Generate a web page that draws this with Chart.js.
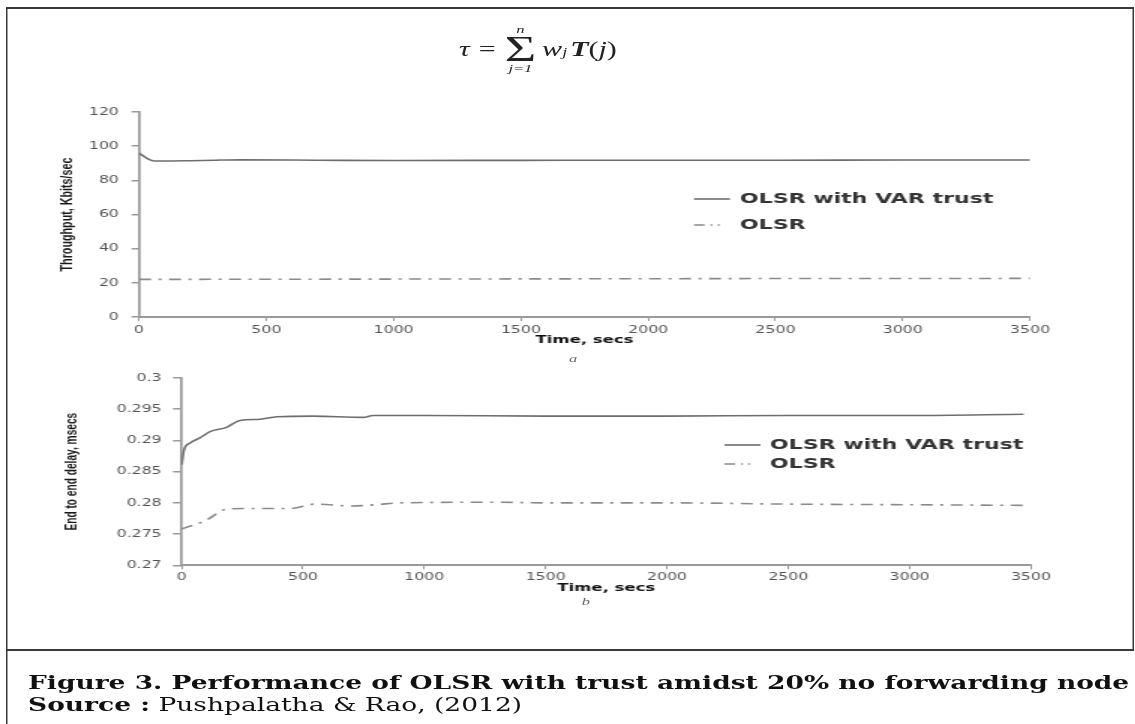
<!DOCTYPE html>
<html lang="en">
<head>
<meta charset="UTF-8">
<title>Figure 3 - Performance of OLSR with trust</title>
<style>
    * { margin: 0; padding: 0; box-sizing: border-box; }
    body { width: 1135px; height: 724px; background: #fff; overflow: hidden; font-family: 'DejaVu Sans', sans-serif; }

    /* the source figure is stretched sideways, so everything is laid out narrow and widened */
    #stage { position: absolute; left: 0; top: 0; width: 756.67px; height: 724px; transform: scaleX(1.5); transform-origin: 0 0; }

    .frame { position: absolute; left: 4px; top: 7px; width: 752px; height: 644px; border: 2px solid #3a3a3a; border-left-width: 1.4px; border-right-width: 1.4px; }
    .frame-low { position: absolute; left: 4px; top: 650px; width: 1.4px; height: 74px; background: #3a3a3a; }

    .chart-box { position: absolute; left: 0; width: 740px; }

    .formula { position: absolute; left: 306px; top: 24px; display: flex; align-items: center; font-family: 'Liberation Serif', serif; font-size: 20px; color: #222; white-space: nowrap; }
    .formula i { font-style: italic; }
    .formula .eq { margin: 0 6px; }
    .formula .sum { display: flex; flex-direction: column; align-items: center; line-height: 1; margin-right: 4px; }
    .formula .sum .lim { font-size: 11px; font-style: italic; }
    .formula .sum .sig { font-size: 36px; line-height: 28px; }
    .formula sub { font-size: 12px; font-style: italic; position: relative; top: 3px; vertical-align: baseline; margin-right: 2px; }
    .formula b { font-style: italic; }

    .tag { position: absolute; font: italic 11px 'Liberation Serif', serif; color: #666; transform: translate(-50%, -50%); }

    .caption { position: absolute; left: 18.7px; top: 671.5px; font-family: 'DejaVu Serif', serif; font-size: 17px; line-height: 21px; color: #111; white-space: nowrap; }
    .caption b { font-weight: bold; }
</style>
</head>
<body>
<div id="stage">
    <div class="frame"></div>
    <div class="frame-low"></div>

    <div class="formula">
        <i>τ</i><span class="eq">=</span>
        <span class="sum"><span class="lim">n</span><span class="sig">Σ</span><span class="lim">j=1</span></span>
        <i>w</i><sub>j</sub><b>T</b>(<i>j</i>)
    </div>

    <div class="chart-box" style="top:90px;height:260px;"><canvas id="throughputChart"></canvas></div>
    <div class="tag" style="left:382px;top:358px;">a</div>

    <div class="chart-box" style="top:355px;height:250px;"><canvas id="delayChart"></canvas></div>
    <div class="tag" style="left:390.5px;top:601px;">b</div>

    <div class="caption">
        <span id="capLine1"><b>Figure 3. Performance of OLSR with trust amidst 20% no forwarding node</b></span><br>
        <span><b>Source :</b> Pushpalatha &amp; Rao, (2012)</span>
    </div>
</div>

<script src="https://cdn.jsdelivr.net/npm/chart.js@4.4.0/dist/chart.umd.min.js"></script>
<script>
    // Series names
    const trustName = 'OLSR with VAR trust';
    const plainName = 'OLSR';

    // (a) Throughput, Kbits/sec against time
    const trustTimeA = [0, 15, 35, 60, 100, 200, 300, 400, 600, 800, 1000, 1500, 2000, 2500, 3000, 3500];
    const trustThroughput = [96, 94.5, 92.5, 91.3, 91.3, 91.5, 91.8, 92.0, 91.9, 91.7, 91.6, 91.7, 91.8, 91.8, 91.9, 91.9];
    const plainTimeA = [0, 500, 1000, 1500, 2000, 2500, 3000, 3500];
    const plainThroughput = [22.0, 22.1, 22.2, 22.3, 22.4, 22.5, 22.5, 22.6];

    // (b) End to end delay, msecs against time
    const trustTimeB = [0, 10, 35, 75, 117, 185, 240, 323, 391, 542, 748, 789, 1000, 1500, 2000, 2500, 3000, 3470];
    const trustDelay = [0.2861, 0.2885, 0.2896, 0.2904, 0.2914, 0.2921, 0.2932, 0.2934, 0.2938, 0.2939, 0.2937, 0.2940, 0.2940, 0.2939, 0.2939, 0.2940, 0.2940, 0.2942];
    const plainTimeB = [0, 100, 185, 300, 450, 550, 700, 800, 900, 1300, 1500, 2000, 2500, 3000, 3470];
    const plainDelay = [0.2758, 0.2772, 0.2790, 0.2791, 0.2791, 0.2798, 0.2795, 0.2797, 0.2800, 0.2801, 0.2800, 0.2800, 0.2798, 0.2797, 0.2796];

    // Tick labels
    const timeTicks = ['0', '500', '1000', '1500', '2000', '2500', '3000', '3500'];
    const throughputTicks = ['0', '20', '40', '60', '80', '100', '120'];
    const delayTicks = ['0.27', '0.275', '0.28', '0.285', '0.29', '0.295', '0.3'];

    const axisColor = '#9a9a9a';
    const tickColor = '#555';
    const trustColor = '#6e6e6e';
    const plainColor = '#8a8a8a';

    // pick a font size so a text gets a given length
    function fitSize(text, weight, family, target, base) {
        const c = document.createElement('canvas').getContext('2d');
        c.font = `${weight} ${base}px ${family}`;
        return base * target / c.measureText(text).width;
    }

    const narrowFamily = '"Liberation Sans Narrow", "Liberation Sans", sans-serif';
    const legendSize = fitSize(trustName, 'bold', '"DejaVu Sans"', 169, 15);

    function points(xs, ys) {
        return xs.map((x, i) => ({ x: x, y: ys[i] }));
    }

    function makeDatasets(tx, ty, px, py) {
        return [
            {
                label: trustName,
                data: points(tx, ty),
                borderColor: trustColor,
                borderWidth: 1.6,
                pointRadius: 0,
                cubicInterpolationMode: 'monotone',
                legendDash: []
            },
            {
                label: plainName,
                data: points(px, py),
                borderColor: plainColor,
                borderWidth: 1.6,
                borderDash: [8, 5, 2, 5],
                pointRadius: 0,
                cubicInterpolationMode: 'monotone',
                legendDash: [7, 4, 1.3, 3.5, 1.3, 10]
            }
        ];
    }

    // legend sitting inside the plot, as in the figure
    const inlineLegend = {
        id: 'inlineLegend',
        afterDraw(chart, args, opts) {
            const ctx = chart.ctx;
            chart.data.datasets.forEach((ds, i) => {
                const y = opts.y + i * opts.gap;
                ctx.save();
                ctx.strokeStyle = ds.borderColor;
                ctx.lineWidth = ds.borderWidth;
                ctx.setLineDash(ds.legendDash);
                ctx.beginPath();
                ctx.moveTo(opts.x, y);
                ctx.lineTo(opts.x + opts.w, y);
                ctx.stroke();
                ctx.setLineDash([]);
                ctx.fillStyle = '#333';
                ctx.font = `bold ${legendSize}px "DejaVu Sans"`;
                ctx.textBaseline = 'middle';
                ctx.fillText(ds.label, opts.textX, y);
                ctx.restore();
            });
        }
    };

    function makeScales(o) {
        const titleSize = fitSize(o.yTitle, 'bold', narrowFamily, o.yTitleLen, 14);
        return {
            x: {
                type: 'linear',
                min: 0,
                max: 3500,
                ticks: {
                    stepSize: 500,
                    color: tickColor,
                    font: { family: 'DejaVu Sans', size: 10.5 },
                    padding: o.xPad,
                    maxRotation: 0,
                    callback: (v, i) => timeTicks[i]
                },
                grid: { drawOnChartArea: false, drawTicks: true, tickLength: 4, color: axisColor, lineWidth: 1 },
                border: { color: axisColor, width: 2 },
                title: {
                    display: true,
                    text: 'Time, secs',
                    color: '#111',
                    font: { family: 'DejaVu Sans', weight: 'bold', size: 11 },
                    padding: { top: 0, bottom: o.xTitlePad }
                },
                afterFit: s => { s.height = o.xHeight; }
            },
            y: {
                min: o.yMin,
                max: o.yMax,
                ticks: {
                    stepSize: o.yStep,
                    color: tickColor,
                    font: { family: 'DejaVu Sans', size: 10.5 },
                    padding: o.yPad,
                    callback: (v, i) => o.yLabels[i]
                },
                grid: { drawOnChartArea: false, drawTicks: true, tickLength: o.yTick, color: axisColor, lineWidth: 1.5 },
                border: { color: axisColor, width: 1.7 },
                title: {
                    display: true,
                    text: o.yTitle,
                    color: '#1a1a1a',
                    font: { family: narrowFamily, weight: 'bold', size: titleSize },
                    padding: { top: o.yTitleX - titleSize * 0.6, bottom: 0 }
                },
                afterFit: s => { s.width = o.yWidth; }
            }
        };
    }

    new Chart(document.getElementById('throughputChart'), {
        type: 'line',
        data: { datasets: makeDatasets(trustTimeA, trustThroughput, plainTimeA, plainThroughput) },
        plugins: [inlineLegend],
        options: {
            responsive: true,
            maintainAspectRatio: false,
            animation: false,
            layout: { padding: { top: 22, right: 53.3, bottom: 0, left: 0 } },
            plugins: {
                legend: { display: false },
                tooltip: { enabled: false },
                inlineLegend: { x: 462.7, w: 24, textX: 493.3, y: 109, gap: 26 }
            },
            scales: makeScales({
                yMin: 0, yMax: 120, yStep: 20, yLabels: throughputTicks,
                yWidth: 92.7, yTick: 5, yPad: 8.4,
                yTitle: 'Throughput, Kbits/sec', yTitleLen: 114, yTitleX: 45,
                xHeight: 33, xPad: 2.7, xTitlePad: 3.4
            })
        }
    });

    new Chart(document.getElementById('delayChart'), {
        type: 'line',
        data: { datasets: makeDatasets(trustTimeB, trustDelay, plainTimeB, plainDelay) },
        plugins: [inlineLegend],
        options: {
            responsive: true,
            maintainAspectRatio: false,
            animation: false,
            layout: { padding: { top: 23, right: 52.7, bottom: 0, left: 0 } },
            plugins: {
                legend: { display: false },
                tooltip: { enabled: false },
                inlineLegend: { x: 483, w: 24, textX: 513.3, y: 90, gap: 19 }
            },
            scales: makeScales({
                yMin: 0.27, yMax: 0.3, yStep: 0.005, yLabels: delayTicks,
                yWidth: 121.1, yTick: 5.8, yPad: 7.5,
                yTitle: 'End to end delay, msecs', yTitleLen: 118, yTitleX: 48.3,
                xHeight: 39.7, xPad: 1.4, xTitlePad: 10.4
            })
        }
    });

    // caption fills the frame width
    const cap = document.getElementById('capLine1');
    const capBox = document.querySelector('.caption');
    capBox.style.fontSize = (17 * 735 / cap.offsetWidth) + 'px';
</script>
</body>
</html>
